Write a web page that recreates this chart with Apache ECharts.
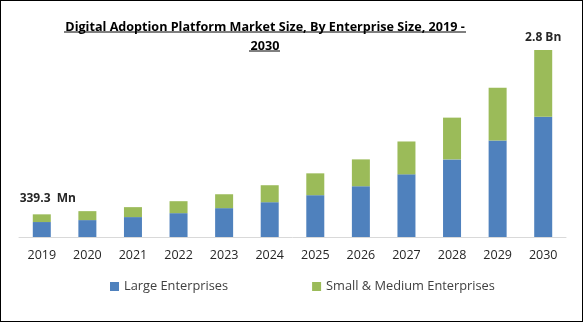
<!DOCTYPE html>
<html><head><meta charset="utf-8">
<script src="https://cdn.jsdelivr.net/npm/echarts@6/dist/echarts.min.js"></script>
<style>
html,body{margin:0;padding:0;background:#fff;}
#c{width:581px;height:320px;border:1px solid #000;}
</style></head><body>
<div id="c"></div>
<script>
const categories = ['2019','2020','2021','2022','2023','2024','2025','2026','2027','2028','2029','2030'];
const largeEnterprises = [224, 253, 298, 357, 432, 521, 626, 760, 938, 1162, 1445, 1802];
const smallMediumEnterprises = [115.3, 134, 149, 179, 208, 254, 327, 402, 492, 625, 789, 998];
const endLabels = ['339.3  Mn', '2.8 Bn'];

const chart = echarts.init(document.getElementById('c'));
const n = categories.length;
const greenData = smallMediumEnterprises.map((v, i) => {
  if (i === 0) return {value: v, label: {show: true, formatter: endLabels[0], distance: 10, offset: [6, 0]}};
  if (i === n - 1) return {value: v, label: {show: true, formatter: endLabels[1], distance: 6}};
  return v;
});
chart.setOption({
  animation: false,
  title: {
    text: 'Digital Adoption Platform Market Size, By Enterprise Size, 2019 -\n2030',
    left: 259, top: 12, textAlign: 'center',
    textStyle: {fontFamily: 'Open Sans', fontWeight: 'bold', fontSize: 12.6, color: '#000', lineHeight: 19}
  },
  legend: {
    left: 104, top: 274, itemWidth: 9, itemHeight: 9, itemGap: 84, icon: 'rect',
    textStyle: {fontFamily: 'Open Sans', fontSize: 12.8, color: '#404040'},
    data: ['Large Enterprises', 'Small & Medium Enterprises']
  },
  grid: {left: 18, right: 16, top: 35.6, bottom: 84},
  xAxis: {
    type: 'category', data: categories,
    axisLine: {lineStyle: {color: '#d9d9d9'}}, axisTick: {show: false},
    axisLabel: {fontFamily: 'Open Sans', fontSize: 12.5, color: '#262626', margin: 12}
  },
  yAxis: {type: 'value', min: 0, max: 3000, show: false, splitLine: {show: false}},
  series: [
    {name: 'Large Enterprises', type: 'bar', stack: 'a', data: largeEnterprises, barWidth: 18,
     itemStyle: {color: '#4f81bd'}},
    {name: 'Small & Medium Enterprises', type: 'bar', stack: 'a', data: greenData, barWidth: 18,
     itemStyle: {color: '#9bbb59'},
     label: {show: false, position: 'top', fontFamily: 'Open Sans', fontWeight: 'bold', fontSize: 12, color: '#262626'}}
  ],
  graphic: [
    {type: 'line', shape: {x1: 63, y1: 31, x2: 465, y2: 31}, style: {stroke: '#000', lineWidth: 1}},
    {type: 'line', shape: {x1: 248, y1: 50, x2: 279, y2: 50}, style: {stroke: '#000', lineWidth: 1}}
  ]
});
</script></body></html>
